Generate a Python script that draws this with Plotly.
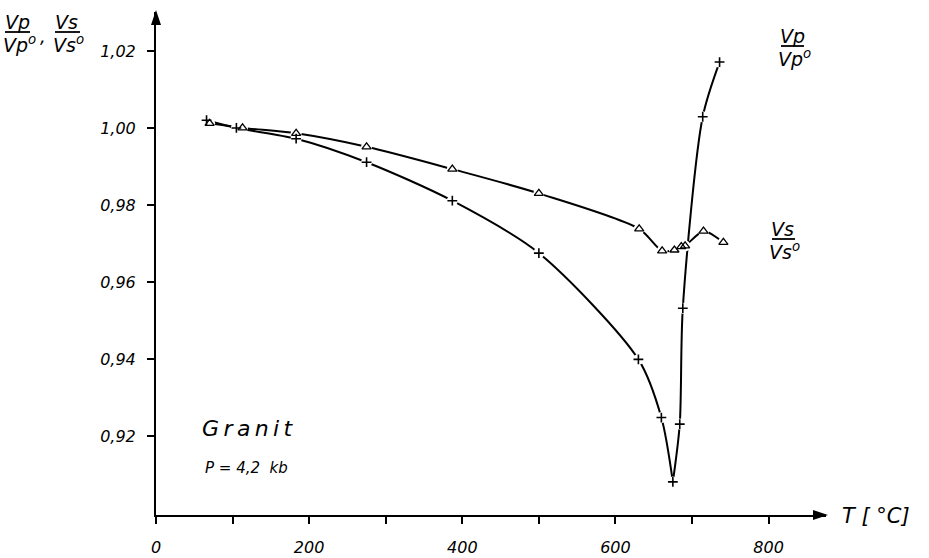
import plotly.graph_objects as go

# --- data ---
t_vp = [66, 105, 183, 275, 387, 500, 630, 660, 675, 684, 688, 714, 736]
vp_ratio = [1.0020, 1.0000, 0.9972, 0.9911, 0.9811, 0.9675, 0.9399, 0.9248,
            0.9081, 0.9231, 0.9532, 1.0029, 1.0171]
t_vs = [70, 113, 183, 275, 387, 500, 631, 661, 677, 686, 691, 715, 741]
vs_ratio = [1.0012, 1.0000, 0.9986, 0.9951, 0.9893, 0.9830, 0.9738, 0.9681,
            0.9683, 0.9692, 0.9694, 0.9732, 0.9703]

x_ticks = [0, 100, 200, 300, 400, 500, 600, 700, 800]
x_ticklabels = ["0", "", "200", "", "400", "", "600", "", "800"]
y_ticks = [0.92, 0.94, 0.96, 0.98, 1.00, 1.02]
y_ticklabels = ["0,92", "0,94", "0,96", "0,98", "1,00", "1,02"]

FONT = "DejaVu Sans"
W, H = 929, 558
L, R, T, B = 156, 103, 12, 43
PW, PH = W - L - R, H - T - B

fig = go.Figure()

# Vp curve: two smooth branches meeting at the minimum
imin = vp_ratio.index(min(vp_ratio))
for sl in (slice(0, imin + 1), slice(imin, len(t_vp))):
    fig.add_trace(go.Scatter(x=t_vp[sl], y=vp_ratio[sl], mode="lines",
                             line=dict(color="black", width=2, shape="spline", smoothing=0.8),
                             hoverinfo="skip", showlegend=False))
fig.add_trace(go.Scatter(x=t_vs, y=vs_ratio, mode="lines",
                         line=dict(color="black", width=2, shape="spline", smoothing=0.8),
                         hoverinfo="skip", showlegend=False))

# white halos to break the line around each marker
for xs, ys in ((t_vp, vp_ratio), (t_vs, vs_ratio)):
    fig.add_trace(go.Scatter(x=xs, y=ys, mode="markers",
                             marker=dict(symbol="circle", size=11, color="white", line=dict(width=0)),
                             hoverinfo="skip", showlegend=False))

fig.add_trace(go.Scatter(x=t_vp, y=vp_ratio, mode="markers", name="Vp/Vp°",
                         marker=dict(symbol="cross-thin", size=7, line=dict(color="black", width=1.6)),
                         showlegend=False))
fig.add_trace(go.Scatter(x=t_vs, y=vs_ratio, mode="markers", name="Vs/Vs°",
                         marker=dict(symbol="triangle-up-open", size=8, color="black",
                                     line=dict(color="black", width=1.3)),
                         showlegend=False))

tickfont = dict(family=FONT, size=16, color="black", style="italic")
fig.update_xaxes(range=[0, 875], tickmode="array", tickvals=x_ticks, ticktext=x_ticklabels,
                 showline=True, linecolor="black", linewidth=2, ticks="outside",
                 ticklen=7, tickwidth=1.5, tickcolor="black", showgrid=False, zeroline=False,
                 tickfont=tickfont, ticklabelstandoff=10, automargin=False)
fig.update_yaxes(range=[0.8995, 1.0301], tickmode="array", tickvals=y_ticks, ticktext=y_ticklabels,
                 showline=True, linecolor="black", linewidth=2, ticks="outside",
                 ticklen=7, tickwidth=1.5, tickcolor="black", showgrid=False, zeroline=False,
                 tickfont=tickfont, ticklabelstandoff=8, automargin=False)

def px(x):
    return (x - L) / PW

def py(y):
    return (H - B - y) / PH

shapes = [
    # arrowheads
    dict(type="path", xref="paper", yref="paper", xsizemode="pixel", ysizemode="pixel",
         xanchor=1, yanchor=0, path="M 2 0 L -13 5 L -13 -5 Z",
         fillcolor="black", line=dict(width=0)),
    dict(type="path", xref="paper", yref="paper", xsizemode="pixel", ysizemode="pixel",
         xanchor=0, yanchor=1, path="M 0 2 L -5 -13 L 5 -13 Z",
         fillcolor="black", line=dict(width=0)),
]

annotations = []
def txt(x, y, s, size, xanchor="center", yanchor="middle"):
    annotations.append(dict(xref="paper", yref="paper", x=px(x), y=py(y), text=s,
                            showarrow=False, xanchor=xanchor, yanchor=yanchor,
                            font=dict(family=FONT, size=size, color="black", style="italic")))

def bar(x0, x1, y):
    shapes.append(dict(type="line", xref="paper", yref="paper", x0=px(x0), x1=px(x1),
                       y0=py(y), y1=py(y), line=dict(color="black", width=1.8)))

def frac(xc, ytop, sub, x0, x1):
    txt(xc, ytop + 9, "V" + sub, 19)
    bar(x0, x1, ytop + 19)
    txt(xc + 2, ytop + 31, "V" + sub + "<sup>o</sup>", 19)

# top-left axis label
frac(17, 13, "p", 5, 30)
txt(43, 37, ",", 18)
frac(66, 13, "s", 55, 80)
# right-hand curve labels
frac(792, 27, "p", 781, 804)
frac(782, 220, "s", 772, 795)

thin = "\u2009"
txt(200, 428, thin.join("Granit"), 22, xanchor="left")
txt(203, 468, "P = 4,2  kb", 15, xanchor="left")
txt(840, 516, "T [ °C]", 21, xanchor="left")

fig.update_layout(width=W, height=H, margin=dict(l=L, r=R, t=T, b=B),
                  paper_bgcolor="white", plot_bgcolor="white",
                  shapes=shapes, annotations=annotations)

fig.write_html("out.html", config={"displayModeBar": False},
               post_script="document.body.style.margin='0px';")
